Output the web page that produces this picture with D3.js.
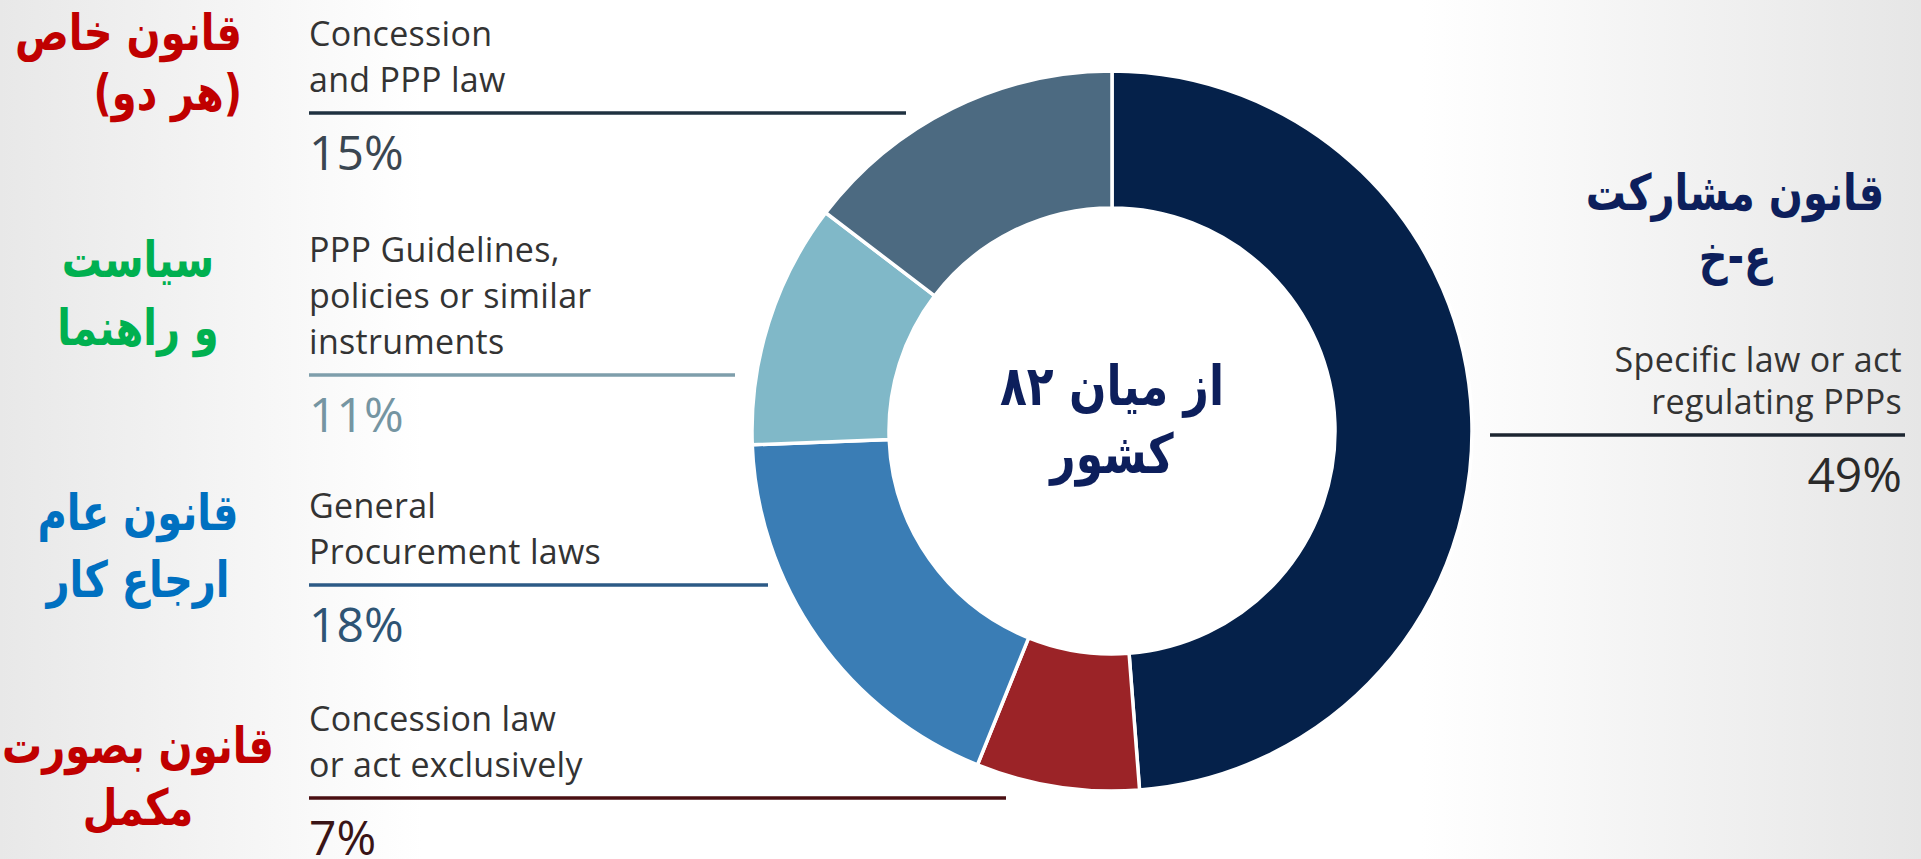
<!DOCTYPE html>
<html>
<head>
<meta charset="utf-8">
<script src="https://cdn.jsdelivr.net/npm/d3@7"></script>
<style>
  html, body { margin: 0; padding: 0; background: #fff; overflow: hidden; }
  svg { display: block; }
  .en { font-family: "Open Sans", "Noto Sans", sans-serif; }
  .fa { font-family: "DejaVu Sans", sans-serif; font-weight: bold; }
</style>
</head>
<body>
<div id="chart"></div>
<script>
// data: slices clockwise from 12 o'clock
const categories = ["Specific law or act regulating PPPs", "Concession law or act exclusively",
  "General Procurement laws", "PPP Guidelines, policies or similar instruments", "Concession and PPP law"];
// countries out of 82, shown as rounded percents
const countries = [40, 6, 15, 9, 12];
const percentLabels = ["49%", "7%", "18%", "11%", "15%"];
const labelLines = [
  ["Specific law or act", "regulating PPPs"],
  ["Concession law", "or act exclusively"],
  ["General", "Procurement laws"],
  ["PPP Guidelines,", "policies or similar", "instruments"],
  ["Concession", "and PPP law"]
];
const persianLabels = [
  ["قانون مشارکت", "ع-خ"],
  ["قانون بصورت", "مکمل"],
  ["قانون عام", "ارجاع کار"],
  ["سیاست", "و راهنما"],
  ["قانون خاص", "(هر دو)"]
];
const centerLines = ["از میان ۸۲", "کشور"];

const sliceColors = ["#05214a", "#9b2327", "#3a7db5", "#80b8c8", "#4c6a81"];
const ruleColors = ["#1c2530", "#4a0f12", "#2c5a86", "#7e9eab", "#1f3140"];
const pctColors = ["#2a2a2a", "#3a1416", "#2e5474", "#7595a2", "#3a4651"];
const faColors = ["#0d1f5c", "#c00000", "#0070c0", "#00b050", "#c00000"];

const W = 1921, H = 859;
const cx = 1112, cy = 431;

const svg = d3.select("#chart").append("svg")
  .attr("width", W).attr("height", H);

// background vignette
const grad = svg.append("defs").append("linearGradient").attr("id", "bg");
[[0, "#e8e8e8"], [0.22, "#ffffff"], [0.74, "#ffffff"], [1, "#e6e6e6"]].forEach(s =>
  grad.append("stop").attr("offset", s[0]).attr("stop-color", s[1]));
svg.append("rect").attr("width", W).attr("height", H).attr("fill", "url(#bg)");

// donut
const pie = d3.pie().sort(null).value(d => d);
const arc = d3.arc().innerRadius(223).outerRadius(360);

const g = svg.append("g").attr("transform", `translate(${cx},${cy})`);
g.selectAll("path")
  .data(pie(countries))
  .join("path")
  .attr("d", arc)
  .attr("fill", (d, i) => sliceColors[i])
  .attr("stroke", "#fff")
  .attr("stroke-width", 3.5);

// label layout: index -> position of the rule line
const layout = [
  {x1: 1490, x2: 1905, y: 435, anchor: "end", tx: 1902},
  {x1: 309, x2: 1006, y: 798, anchor: "start", tx: 309},
  {x1: 309, x2: 768, y: 585, anchor: "start", tx: 309},
  {x1: 309, x2: 735, y: 375, anchor: "start", tx: 309},
  {x1: 309, x2: 906, y: 113, anchor: "start", tx: 309}
];
const lineGap = 46;

categories.forEach((c, i) => {
  const L = layout[i];
  const gap = i === 0 ? 42 : lineGap;
  svg.append("line")
    .attr("x1", L.x1).attr("x2", L.x2)
    .attr("y1", L.y).attr("y2", L.y)
    .attr("stroke", ruleColors[i]).attr("stroke-width", 3.5);

  const lines = labelLines[i];
  lines.forEach((t, k) => {
    svg.append("text").attr("class", "en")
      .attr("x", L.tx)
      .attr("y", L.y - 21 - (lines.length - 1 - k) * gap)
      .attr("text-anchor", L.anchor)
      .attr("font-size", 34)
      .attr("letter-spacing", 0.3)
      .attr("fill", "#333")
      .text(t);
  });

  svg.append("text").attr("class", "en")
    .attr("x", L.tx)
    .attr("y", L.y + 57)
    .attr("text-anchor", L.anchor)
    .attr("font-size", 48)
    .attr("fill", pctColors[i])
    .text(percentLabels[i]);
});

// persian annotations (slightly stretched vertically, like the bold naskh in the original)
const faLayout = [
  {x: 1735, y: [210, 274], anchor: "middle"},
  {x: 138, y: [763, 825], anchor: "middle"},
  {x: 138, y: [530, 597], anchor: "middle"},
  {x: 138, y: [277, 345], anchor: "middle"},
  {x: 242, y: [50, 110], anchor: "start"}
];
persianLabels.forEach((lines, i) => {
  const P = faLayout[i];
  lines.forEach((t, k) => {
    svg.append("text").attr("class", "fa")
      .attr("transform", `translate(${P.x},${P.y[k]}) scale(1,1.25)`)
      .attr("direction", "rtl")
      .attr("text-anchor", P.anchor)
      .attr("font-size", 40)
      .attr("fill", faColors[i])
      .text(t);
  });
});

centerLines.forEach((t, k) => {
  svg.append("text").attr("class", "fa")
    .attr("transform", `translate(${cx},${[405, 473][k]}) scale(1,1.25)`)
    .attr("direction", "rtl")
    .attr("text-anchor", "middle")
    .attr("font-size", 44)
    .attr("fill", "#0d1f5c")
    .text(t);
});
</script>
</body>
</html>
